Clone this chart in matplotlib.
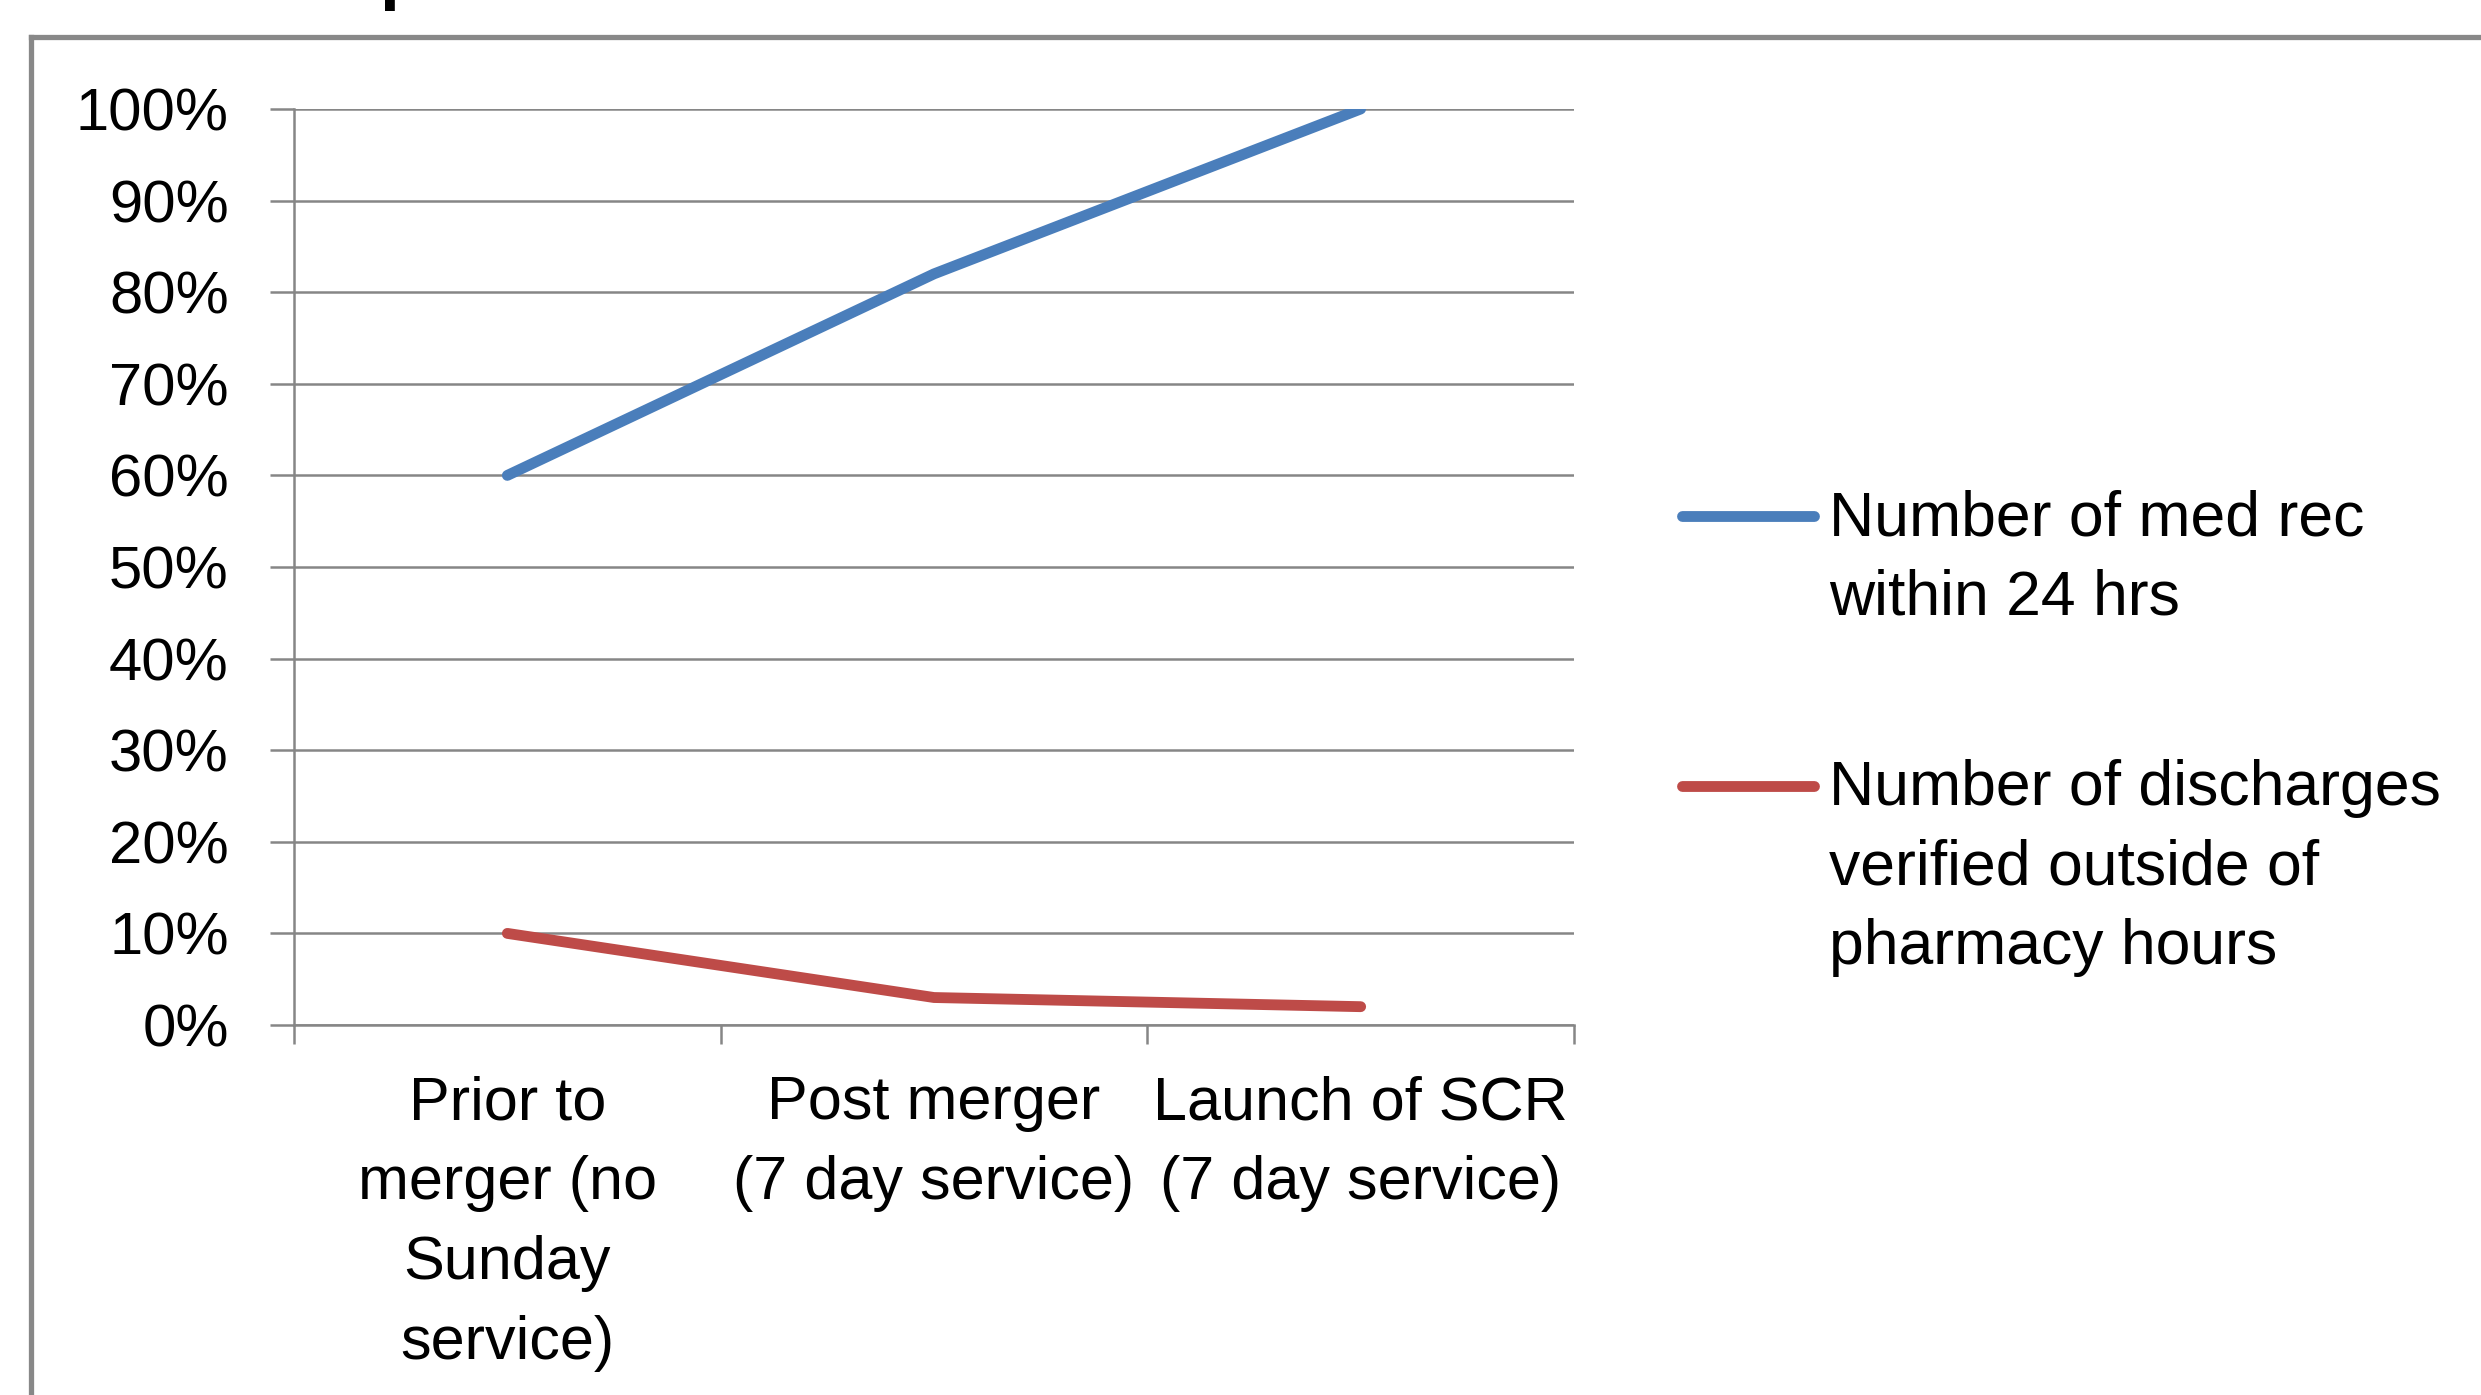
import numpy as np
import matplotlib.pyplot as plt
from matplotlib.lines import Line2D

plt.rcParams['font.family'] = ['Liberation Sans', 'DejaVu Sans']

categories = ['Prior to\nmerger (no\nSunday\nservice)',
              'Post merger\n(7 day service)',
              'Launch of SCR\n(7 day service)']
med_rec = [60, 82, 100]
discharges = [10, 3, 2]
series_names = ['Number of med rec\nwithin 24 hrs',
                'Number of discharges\nverified outside of\npharmacy hours']
series_colors = ['#4A7EBB', '#BE4B48']
yticks = np.arange(0, 101, 10)

W, H = 2481, 1395
fig = plt.figure(figsize=(W/100, H/100), dpi=100)
ax = fig.add_axes([294/W, 1-1025/H, (1574-294)/W, (1025-109)/H])

x = np.arange(len(categories)) + 0.5
ax.plot(x, med_rec, color=series_colors[0], lw=7.8, solid_capstyle='round')
ax.plot(x, discharges, color=series_colors[1], lw=7.8, solid_capstyle='round')

ax.set_xlim(0, 3)
ax.set_ylim(0, 100)
ax.set_yticks(yticks)
ax.set_yticklabels(['%d%%' % v for v in yticks])
ax.yaxis.grid(True, color='#868686', lw=1.8)
ax.set_axisbelow(True)

ax.set_xticks([0, 1, 2, 3])
ax.set_xticklabels([])
ax.set_xticks(x, minor=True)
ax.set_xticklabels(categories, minor=True, linespacing=1.52)
ax.tick_params(axis='x', which='major', length=14, width=1.8, color='#868686', direction='out')
ax.tick_params(axis='x', which='minor', length=0, pad=36, labelsize=44)
ax.tick_params(axis='y', length=17, width=1.8, color='#868686', pad=30, labelsize=43)

for s in ['top', 'right']:
    ax.spines[s].set_visible(False)
for s in ['left', 'bottom']:
    ax.spines[s].set_color('#868686')
    ax.spines[s].set_linewidth(1.8)

# legend, handle level with the first line of each label
leg_y = [516, 786]
for name, col, yy in zip(series_names, series_colors, leg_y):
    fig.add_artist(Line2D([1682/W, 1814/W], [1-yy/H, 1-yy/H], color=col, lw=7.8,
                          solid_capstyle='round'))
    fig.text(1829/W, 1-(yy-27)/H, name, fontsize=45, va='top', ha='left',
             linespacing=1.45)

# outer chart border (cut off at right and bottom)
fig.add_artist(Line2D([31/W, 31/W], [0, 1-37/H], color='#888888', lw=3.8))
fig.add_artist(Line2D([31/W, 1], [1-37/H, 1-37/H], color='#888888', lw=3.8))

# tail of the cropped title
fig.text(379/W, 1+4/H, 'p', fontsize=52, fontweight='bold', va='baseline', ha='left')

plt.savefig('out.png', dpi=100)
